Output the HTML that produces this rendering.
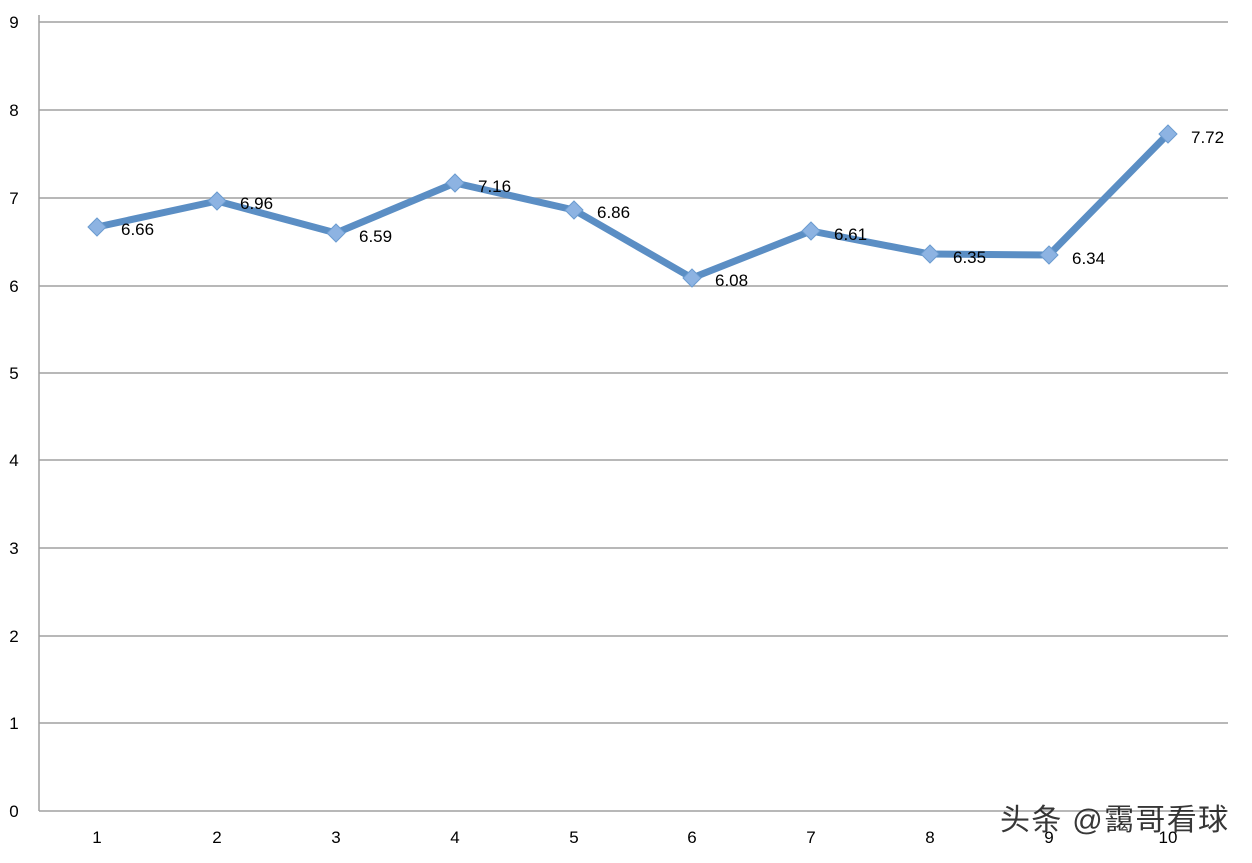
<!DOCTYPE html>
<html><head><meta charset="utf-8"><style>body{margin:0;background:#fff}</style></head><body>
<svg width="1252" height="858" viewBox="0 0 1252 858" xmlns="http://www.w3.org/2000/svg" font-family="Liberation Sans, sans-serif">
<g stroke="#a0a0a0" stroke-width="1.5">
<line x1="39" y1="22" x2="1228" y2="22"/><line x1="39" y1="110" x2="1228" y2="110"/><line x1="39" y1="198" x2="1228" y2="198"/><line x1="39" y1="286" x2="1228" y2="286"/><line x1="39" y1="373" x2="1228" y2="373"/><line x1="39" y1="460" x2="1228" y2="460"/><line x1="39" y1="548" x2="1228" y2="548"/><line x1="39" y1="636" x2="1228" y2="636"/><line x1="39" y1="723" x2="1228" y2="723"/><line x1="39" y1="811" x2="1228" y2="811"/>
<line x1="39" y1="15" x2="39" y2="811"/>
</g>
<g font-size="17" fill="#000" text-anchor="middle">
<text x="14" y="28">9</text><text x="14" y="116">8</text><text x="14" y="204">7</text><text x="14" y="292">6</text><text x="14" y="379">5</text><text x="14" y="466">4</text><text x="14" y="554">3</text><text x="14" y="642">2</text><text x="14" y="729">1</text><text x="14" y="817">0</text>
<text x="97" y="843">1</text><text x="217" y="843">2</text><text x="336" y="843">3</text><text x="455" y="843">4</text><text x="574" y="843">5</text><text x="692" y="843">6</text><text x="811" y="843">7</text><text x="930" y="843">8</text><text x="1049" y="843">9</text><text x="1168" y="843">10</text>
</g>
<polyline fill="none" stroke="#5b8ec4" stroke-width="7" stroke-linejoin="round" points="97,227 217,201 336,233 455,183 574,210 692,278 811,231 930,254 1049,255 1168,134"/>
<g fill="#8db3e2" stroke="#6a9bd0" stroke-width="1">
<path d="M97,218 l9,9 -9,9 -9,-9z"/><path d="M217,192 l9,9 -9,9 -9,-9z"/><path d="M336,224 l9,9 -9,9 -9,-9z"/><path d="M455,174 l9,9 -9,9 -9,-9z"/><path d="M574,201 l9,9 -9,9 -9,-9z"/><path d="M692,269 l9,9 -9,9 -9,-9z"/><path d="M811,222 l9,9 -9,9 -9,-9z"/><path d="M930,245 l9,9 -9,9 -9,-9z"/><path d="M1049,246 l9,9 -9,9 -9,-9z"/><path d="M1168,125 l9,9 -9,9 -9,-9z"/>
</g>
<g font-size="17" fill="#000">
<text x="121" y="235">6.66</text><text x="240" y="209">6.96</text><text x="359" y="242">6.59</text><text x="478" y="192">7.16</text><text x="597" y="218">6.86</text><text x="715" y="286">6.08</text><text x="834" y="240">6.61</text><text x="953" y="263">6.35</text><text x="1072" y="264">6.34</text><text x="1191" y="143">7.72</text>
</g>
<text x="1000" y="830" font-size="30" fill="#222" font-family="Liberation Sans, Noto Sans CJK SC, sans-serif" opacity="0.9" textLength="228">头条 @靄哥看球</text>
</svg>
</body></html>
